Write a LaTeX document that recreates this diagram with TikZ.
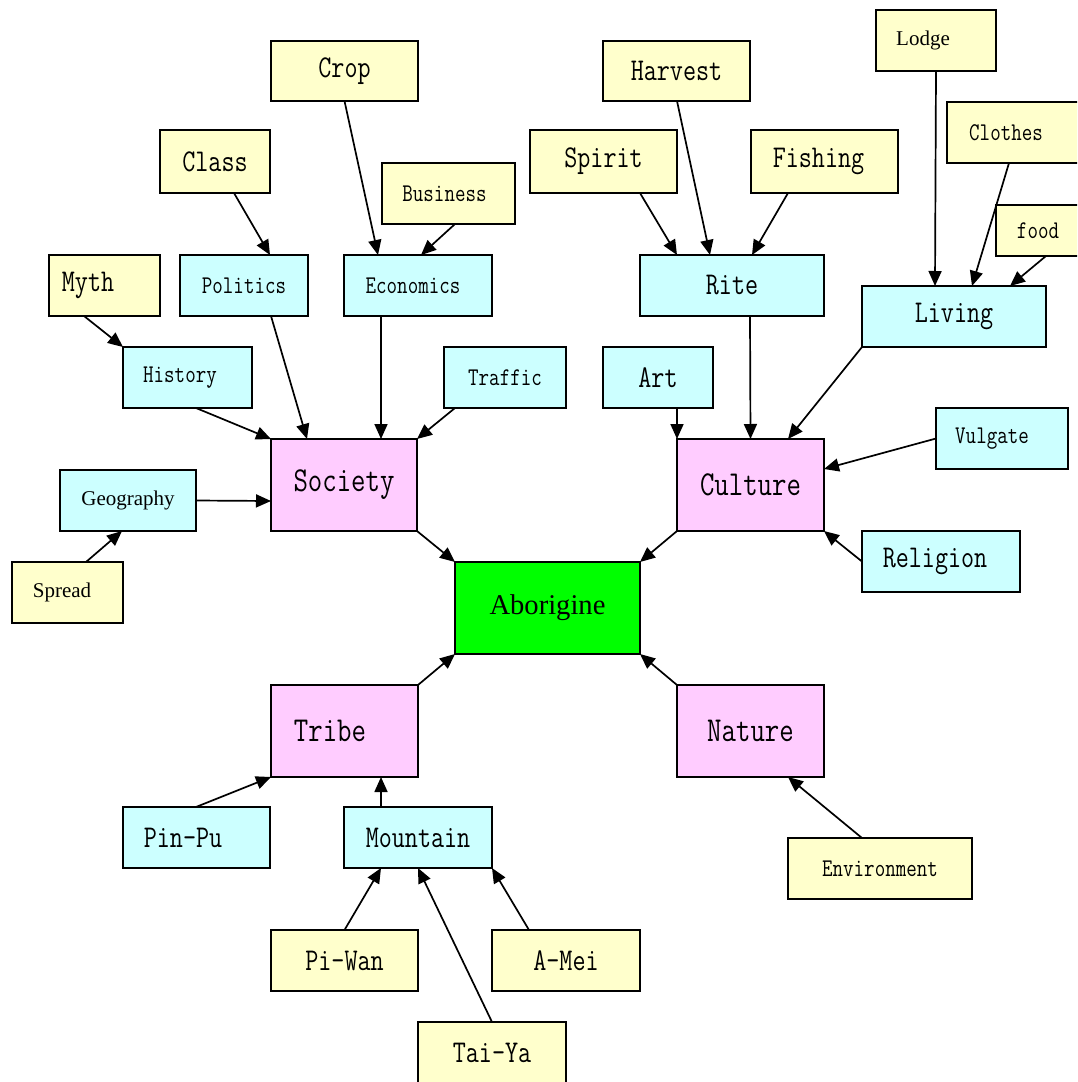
\documentclass[tikz,border=0pt]{standalone}
\usepackage{fontspec}
\setmainfont{Liberation Serif}
\newfontfamily\monof[FakeStretch=0.8]{Latin Modern Mono}
\usetikzlibrary{arrows.meta}
\definecolor{ylw}{HTML}{FFFFCC}
\definecolor{cyn}{HTML}{CCFFFF}
\definecolor{pnk}{HTML}{FFCCFF}
\definecolor{grn}{HTML}{00FF00}
\begin{document}
\begin{tikzpicture}[x=1pt,y=-1pt,
  bx/.style 2 args={draw=black,line width=1.7pt,inner sep=0pt,outer sep=0pt,minimum width=#1pt,minimum height=#2pt},
  yb/.style={fill=ylw},
  cb/.style={fill=cyn},
  pb/.style={fill=pnk},
  gb/.style={fill=grn},
  off/.style={execute at begin node={\hspace*{#1}}},
  fL/.style={font=\monof\fontsize{35}{40}\selectfont},
  fM/.style={font=\monof\fontsize{31.7}{36}\selectfont},
  fS/.style={font=\monof\fontsize{25.5}{30}\selectfont},
  fT/.style={font=\fontsize{21}{25}\selectfont},
  fA/.style={font=\fontsize{28.6}{33}\selectfont},
  arr/.style={-{Triangle[length=15pt,width=13pt]},line width=1.7pt}]
\useasboundingbox (0,0) rectangle (1077,1082);
\clip (0,0) rectangle (1077,1082);
% yellow leaves
\node[bx={147}{60},yb,fM] (crop) at (344.5,71) {Crop};
\node[bx={110}{63},yb,fM] (class) at (215,161.5) {Class};
\node[bx={133}{61},yb,fS,off=-8pt] (bus) at (448.5,193.5) {Business};
\node[bx={147}{60},yb,fM] (harv) at (676.5,71) {Harvest};
\node[bx={147}{63},yb,fM] (spirit) at (603.5,161.5) {Spirit};
\node[bx={147}{63},yb,fM,off=-12pt] (fish) at (824.5,161.5) {Fishing};
\node[bx={120}{61},yb,fT,off=-26pt] (lodge) at (936,40.5) {Lodge};
\node[bx={153}{61},yb,fS,off=-35pt] (clothes) at (1023.5,132.5) {Clothes};
\node[bx={104}{51},yb,fS,off=-20pt] (food) at (1048,230.5) {food};
\node[bx={111}{61},yb,fM,off=-33pt] (myth) at (104.5,285.5) {Myth};
\node[bx={111}{61},yb,fT,off=-11pt] (spread) at (67.5,592.5) {Spread};
\node[bx={184}{61},yb,fS] (env) at (880,868.5) {Environment};
\node[bx={147}{61},yb,fM] (piwan) at (344.5,960.5) {Pi-Wan};
\node[bx={148}{61},yb,fM] (amei) at (566,960.5) {A-Mei};
\node[bx={148}{62},yb,fM] (taiya) at (492,1053) {Tai-Ya};
% cyan
\node[bx={128}{61},cb,fS] (pol) at (244,285.5) {Politics};
\node[bx={148}{61},cb,fS,off=-10pt] (econ) at (418,285.5) {Economics};
\node[bx={184}{61},cb,fM] (rite) at (732,285.5) {Rite};
\node[bx={184}{61},cb,fM] (living) at (954,316.5) {Living};
\node[bx={129}{61},cb,fS,off=-15pt] (hist) at (187.5,377.5) {History};
\node[bx={122}{61},cb,fS] (traf) at (505,377.5) {Traffic};
\node[bx={110}{61},cb,fM] (art) at (658,377.5) {Art};
\node[bx={132}{61},cb,fS,off=-20pt] (vul) at (1002,438.5) {Vulgate};
\node[bx={136}{61},cb,fT] (geo) at (128,500.5) {Geography};
\node[bx={158}{61},cb,fM,off=-12pt] (rel) at (941,561.5) {Religion};
\node[bx={147}{61},cb,fM,off=-27pt] (pinpu) at (196.5,837.5) {Pin-Pu};
\node[bx={148}{61},cb,fM] (mtn) at (418,837.5) {Mountain};
% pink
\node[bx={146}{92},pb,fL] (soc) at (344,485) {Society};
\node[bx={147}{92},pb,fL] (cul) at (750.5,485) {Culture};
\node[bx={147}{92},pb,fL,off=-29pt] (tribe) at (344.5,731) {Tribe};
\node[bx={147}{92},pb,fL] (nature) at (750.5,731) {Nature};
% center
\node[bx={185}{92},gb,fA] (abo) at (547.5,608) {Aborigine};
% connectors
\draw[arr] (crop.south) -- ([xshift=34pt]econ.north west);
\draw[arr] ([xshift=74pt]class.south west) -- ([xshift=90pt]pol.north west);
\draw[arr] ([xshift=73pt]bus.south west) -- ([xshift=77pt]econ.north west);
\draw[arr] ([xshift=35pt]myth.south west) -- (hist.north west);
\draw[arr] ([xshift=91pt]pol.south west) -- ([xshift=36pt]soc.north west);
\draw[arr] ([xshift=37pt]econ.south west) -- ([xshift=110pt]soc.north west);
\draw[arr] ([xshift=73pt]hist.south west) -- (soc.north west);
\draw[arr] ([xshift=11pt]traf.south west) -- (soc.north east);
\draw[arr] (geo.east) -- ([yshift=-16pt]soc.west);
\draw[arr] ([xshift=74pt]spread.north west) -- ([xshift=62pt]geo.south west);
\draw[arr] (soc.south east) -- (abo.north west);
\draw[arr] ([xshift=74pt]harv.south west) -- ([xshift=70pt]rite.north west);
\draw[arr] ([xshift=110pt]spirit.south west) -- ([xshift=37pt]rite.north west);
\draw[arr] ([xshift=37pt]fish.south west) -- ([xshift=112pt]rite.north west);
\draw[arr] (lodge.south) -- ([xshift=73pt]living.north west);
\draw[arr] ([xshift=62pt]clothes.south west) -- ([xshift=110pt]living.north west);
\draw[arr] ([xshift=50pt]food.south west) -- ([xshift=148pt]living.north west);
\draw[arr] ([xshift=110pt]rite.south west) -- (cul.north);
\draw[arr] (living.south west) -- ([xshift=111pt]cul.north west);
\draw[arr] ([xshift=74pt]art.south west) -- (cul.north west);
\draw[arr] (vul.west) -- ([yshift=-30pt]cul.north east);
\draw[arr] (rel.west) -- (cul.south east);
\draw[arr] (cul.south west) -- (abo.north east);
\draw[arr] (tribe.north east) -- (abo.south west);
\draw[arr] (nature.north west) -- (abo.south east);
\draw[arr] ([xshift=74pt]env.north west) -- ([xshift=111pt]nature.south west);
\draw[arr] ([xshift=73pt]pinpu.north west) -- (tribe.south west);
\draw[arr] ([xshift=37pt]mtn.north west) -- ([xshift=110pt]tribe.south west);
\draw[arr] (piwan.north) -- ([xshift=37pt]mtn.south west);
\draw[arr] (taiya.north) -- ([xshift=74pt]mtn.south west);
\draw[arr] ([xshift=37pt]amei.north west) -- (mtn.south east);
\end{tikzpicture}
\end{document}
